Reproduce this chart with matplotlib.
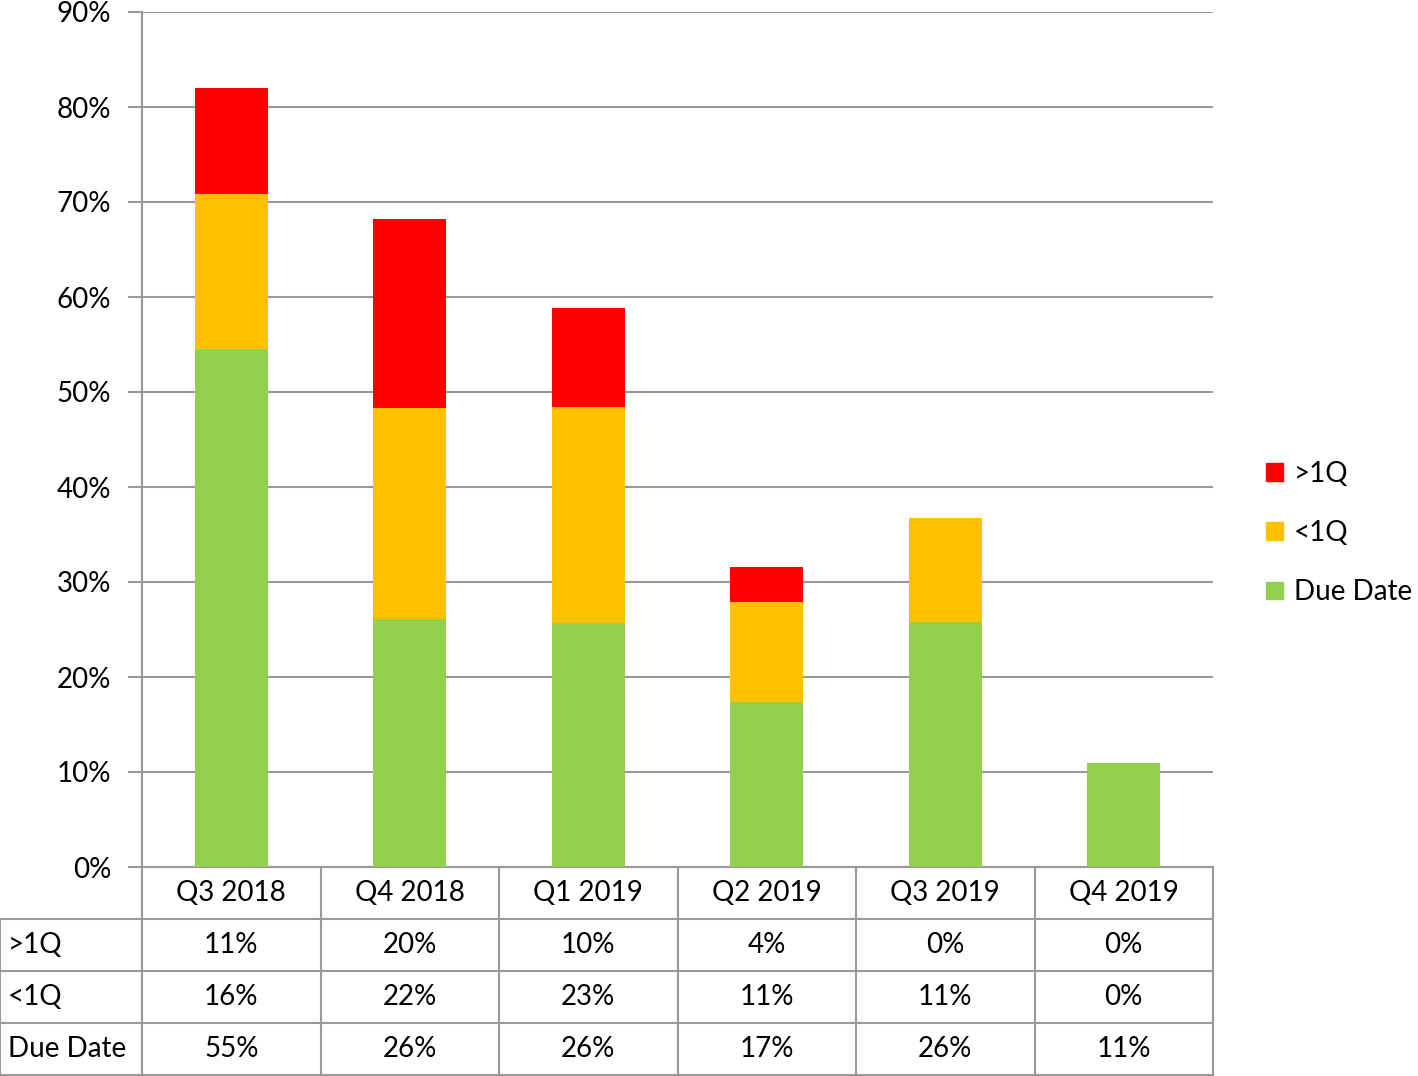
import numpy as np
import matplotlib.pyplot as plt
import matplotlib.transforms as mtransforms
from matplotlib.patches import Patch

plt.rcParams['font.family'] = ['Lato', 'DejaVu Sans']

quarters = ['Q3 2018', 'Q4 2018', 'Q1 2019', 'Q2 2019', 'Q3 2019', 'Q4 2019']
due_date = [54.5, 26.1, 25.7, 17.4, 25.8, 10.9]
lt_1q = [16.3, 22.2, 22.7, 10.5, 10.9, 0.0]
gt_1q = [11.2, 19.9, 10.4, 3.7, 0.0, 0.0]

# rounded values as shown in the data table
table_rows = ['>1Q', '<1Q', 'Due Date']
table_text = [
    ['11%', '20%', '10%', '4%', '0%', '0%'],
    ['16%', '22%', '23%', '11%', '11%', '0%'],
    ['55%', '26%', '26%', '17%', '26%', '11%'],
]

green = '#92D050'
orange = '#FFC000'
red = '#FF0000'
grid = '#999999'
fs = 20

fig = plt.figure(figsize=(14.18, 10.76), dpi=100)
ax = fig.add_axes([142/1418, 1 - 867/1076, (1213-142)/1418, 855/1076])

x = np.arange(len(quarters))
w = 0.41
bottom2 = np.array(due_date)
bottom3 = bottom2 + np.array(lt_1q)
ax.bar(x, due_date, w, color=green, zorder=3)
ax.bar(x, lt_1q, w, bottom=bottom2, color=orange, zorder=3)
ax.bar(x, gt_1q, w, bottom=bottom3, color=red, zorder=3)

ax.set_xlim(-0.5, len(quarters) - 0.5)
ax.set_ylim(0, 90)
ax.set_yticks(range(0, 91, 10))
ax.set_yticklabels([f'{v}%' for v in range(0, 91, 10)], fontsize=fs)
ax.yaxis.grid(True, color=grid, linewidth=1.5, zorder=0)
ax.tick_params(axis='y', length=10, width=1.5, color=grid, pad=12)
ax.set_xticks([])
for s in ['top', 'right', 'bottom']:
    ax.spines[s].set_visible(False)
ax.spines['left'].set_color(grid)
ax.spines['left'].set_linewidth(1.5)

# data table drawn below the axes
trans = mtransforms.blended_transform_factory(ax.transData, ax.transAxes)
row_h = 52 / 855
label_w = 142 / 1071 * len(quarters)
x_left = -0.5 - label_w
x_right = len(quarters) - 0.5
line_kw = dict(color=grid, lw=1.5, transform=trans, clip_on=False)

# horizontal lines
ax.plot([-0.5, x_right], [0, 0], **line_kw)
for i in range(1, 5):
    ax.plot([x_left, x_right], [-i * row_h, -i * row_h], **line_kw)
# vertical lines
ax.plot([x_left, x_left], [-row_h, -4 * row_h], **line_kw)
for b in np.append(x - 0.5, x_right):
    ax.plot([b, b], [0, -4 * row_h], **line_kw)

for j, q in enumerate(quarters):
    ax.text(j, -0.5 * row_h, q, transform=trans, ha='center', va='center', fontsize=fs)
for i, name in enumerate(table_rows):
    yc = -(i + 1.5) * row_h
    ax.text(x_left + 0.045, yc, name, transform=trans, ha='left', va='center', fontsize=fs)
    for j, t in enumerate(table_text[i]):
        ax.text(j, yc, t, transform=trans, ha='center', va='center', fontsize=fs)

handles = [Patch(color=red, label='>1Q'), Patch(color=orange, label='<1Q'),
           Patch(color=green, label='Due Date')]
fig.legend(handles=handles, loc='center left', bbox_to_anchor=(1266/1418, 1 - 533/1076),
           frameon=False, fontsize=fs, handlelength=0.6, handleheight=0.6,
           handletextpad=0.4, labelspacing=1.2, borderpad=0, borderaxespad=0)

fig.savefig('out.png', dpi=100)
